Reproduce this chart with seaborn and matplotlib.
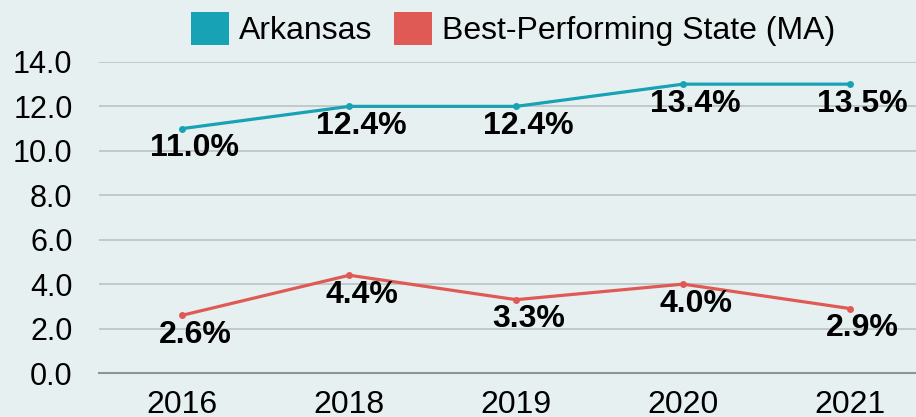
import pandas as pd
import matplotlib.pyplot as plt
import seaborn as sns
from matplotlib.patches import Patch

years = ["2016", "2018", "2019", "2020", "2021"]
arkansas = [11.0, 12.0, 12.0, 13.0, 13.0]
arkansas_labels = ["11.0%", "12.4%", "12.4%", "13.4%", "13.5%"]
best_state = [2.6, 4.4, 3.3, 4.0, 2.9]
best_labels = ["2.6%", "4.4%", "3.3%", "4.0%", "2.9%"]
series = ["Arkansas", "Best-Performing State (MA)"]
colors = ["#17A2B5", "#E05A55"]

df = pd.DataFrame({
    "year": years * 2,
    "value": arkansas + best_state,
    "series": [series[0]] * len(years) + [series[1]] * len(years),
})

sns.set_style("white")
plt.rcParams["font.family"] = ["Liberation Sans", "DejaVu Sans"]
plt.rcParams["text.color"] = "black"
bg = "#E7F0F1"

fig = plt.figure(figsize=(9.16, 4.17), dpi=100, facecolor=bg)
ax = fig.add_axes([0.108, 0.1055, 0.911, 0.746])
ax.set_facecolor(bg)

sns.lineplot(data=df, x="year", y="value", hue="series", palette=colors,
             linewidth=2.3, marker="o", markersize=5, markeredgewidth=0,
             sort=False, legend=False, ax=ax)

# data labels sit below and a bit right of each point
for vals, labs in [(arkansas, arkansas_labels), (best_state, best_labels)]:
    for i, (v, lab) in enumerate(zip(vals, labs)):
        ax.annotate(lab, (i, v), xytext=(9, -14), textcoords="offset points",
                    ha="center", va="center", fontsize=23, fontweight="bold",
                    color="black")

ax.set_xlim(-0.5, 4.5)
ax.set_ylim(0, 14)
ax.set_yticks(range(0, 15, 2))
ax.set_yticklabels([f"{t:.1f}" for t in range(0, 15, 2)])
ax.yaxis.grid(True, color="#BFC5C7", linewidth=1.3)
ax.set_axisbelow(True)
for s in ["top", "right", "left"]:
    ax.spines[s].set_visible(False)
ax.spines["bottom"].set_color("#8E9496")
ax.spines["bottom"].set_linewidth(1.5)
ax.tick_params(axis="both", length=0, colors="black")
ax.tick_params(axis="y", pad=19, labelsize=22)
ax.tick_params(axis="x", pad=12, labelsize=23)
ax.set_xlabel("")
ax.set_ylabel("")

handles = [Patch(facecolor=c, edgecolor="none") for c in colors]
fig.legend(handles, series, loc="center", bbox_to_anchor=(0.56, 0.93),
           ncol=2, frameon=False, fontsize=23, handlelength=1.18,
           handleheight=1.18, handletextpad=0.31, columnspacing=0.69,
           labelcolor="black")

fig.savefig("out.png", dpi=100, facecolor=bg)
